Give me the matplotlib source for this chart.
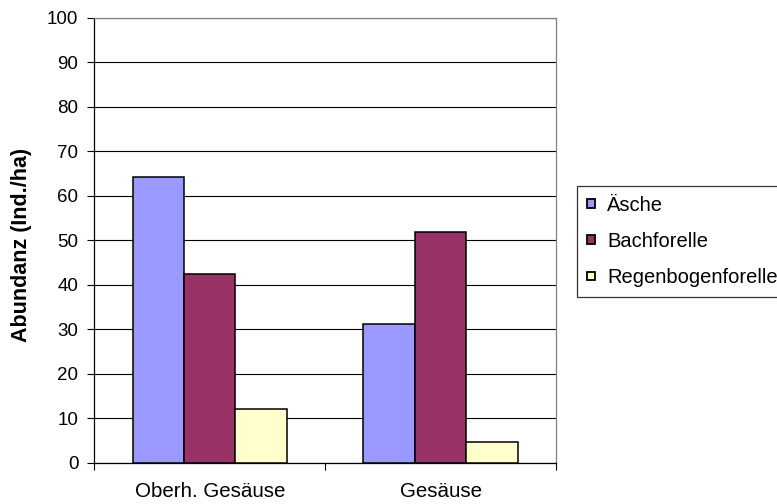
import matplotlib
matplotlib.use("Agg")
import matplotlib.pyplot as plt
import numpy as np

plt.rcParams["font.family"] = ["Liberation Sans", "DejaVu Sans"]
plt.rcParams["font.size"] = 13.5

# Abundanz je Gewässerabschnitt und Art
sites = ["Oberh. Gesäuse", "Gesäuse"]
species = ["Äsche", "Bachforelle", "Regenbogenforelle"]
aesche = [64.3, 31.2]
bachforelle = [42.4, 51.8]
regenbogen = [12.1, 4.7]
colors = ["#9999FF", "#993366", "#FFFFCC"]

fig = plt.figure(figsize=(7.77, 5.04), dpi=100)
ax = fig.add_axes([94.3 / 777, 1 - 462.7 / 504, (556 - 94.3) / 777, (462.7 - 18) / 504])

x = np.arange(len(sites))
width = 0.223
for i, (vals, name) in enumerate(zip([aesche, bachforelle, regenbogen], species)):
    ax.bar(x + (i - 1) * width, vals, width, color=colors[i], edgecolor="black",
           linewidth=1.1, label=name, zorder=3)

ax.set_xlim(-0.5, 1.5)
ax.set_ylim(0, 100)
ax.set_yticks(np.arange(0, 101, 10))
ax.yaxis.grid(True, color="black", linewidth=0.8, zorder=0)

ax.set_xticks(x)
ax.set_xticklabels(sites, fontsize=14.8)
ax.set_xticks([-0.5, 0.5, 1.5], minor=True)
ax.tick_params(axis="x", which="major", length=0, pad=14)
ax.tick_params(axis="x", which="minor", length=5, width=0.8, direction="out")
ax.tick_params(axis="y", length=5, width=0.8, direction="out", pad=6.5)

for side in ["left", "bottom"]:
    ax.spines[side].set_color("black")
    ax.spines[side].set_linewidth(0.9)
for side in ["top", "right"]:
    ax.spines[side].set_color("#808080")
    ax.spines[side].set_linewidth(0.9)

fig.text(22 / 777, 1 - 245 / 504, "Abundanz (Ind./ha)", rotation=90,
         ha="center", va="center", fontweight="bold", fontsize=15.5)

# square legend keys with black outline
leg = ax.legend(loc="upper left", bbox_to_anchor=(576.7 / 777, 1 - 185.7 / 504),
                bbox_transform=fig.transFigure, borderaxespad=0, fancybox=False,
                frameon=True, handlelength=0.42, handleheight=0.27,
                handletextpad=0.6, borderpad=0.5, labelspacing=0.85,
                prop={"size": 14.5})
leg.get_frame().set_edgecolor("black")
leg.get_frame().set_linewidth(0.9)
for h in leg.legend_handles:
    h.set_linewidth(1.3)

fig.savefig("out.png", dpi=100)
